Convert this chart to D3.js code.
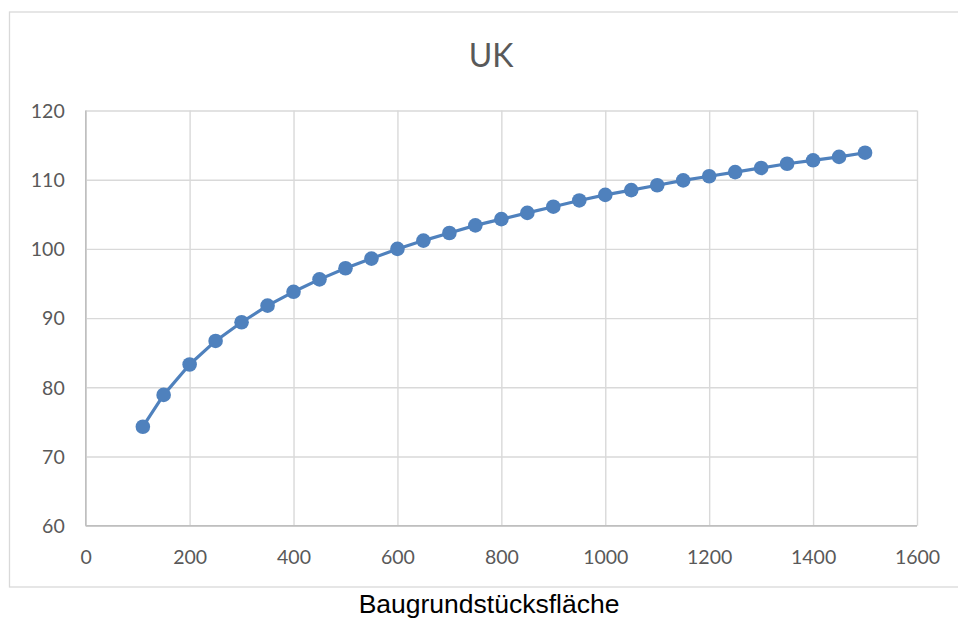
<!DOCTYPE html>
<html>
<head>
<meta charset="utf-8">
<script src="https://cdn.jsdelivr.net/npm/d3@7"></script>
<style>
  html, body { margin: 0; padding: 0; background: #fff; }
  svg { display: block; }
</style>
</head>
<body>
<svg id="chart" width="958" height="619"></svg>
<script>
const title = "UK";
const xLabel = "Baugrundstücksfläche";
const areas = [110, 150, 200, 250, 300, 350, 400, 450, 500, 550, 600, 650, 700, 750, 800,
               850, 900, 950, 1000, 1050, 1100, 1150, 1200, 1250, 1300, 1350, 1400, 1450, 1500];
const values = [74.3, 78.9, 83.3, 86.7, 89.4, 91.8, 93.8, 95.6, 97.2, 98.6, 100.0, 101.2, 102.3, 103.4, 104.3,
                105.2, 106.1, 107.0, 107.8, 108.5, 109.2, 109.9, 110.5, 111.1, 111.7, 112.3, 112.8, 113.3, 113.9];
const xTicks = [0, 200, 400, 600, 800, 1000, 1200, 1400, 1600];
const yTicks = [60, 70, 80, 90, 100, 110, 120];

const svg = d3.select("#chart");
const plot = { left: 85.7, right: 917, top: 110.5, bottom: 525.7 };

// chart border
svg.append("rect")
  .attr("x", 9.5).attr("y", 12).attr("width", 980).attr("height", 575)
  .attr("fill", "#fff").attr("stroke", "#d9d9d9").attr("stroke-width", 1.3);

const x = d3.scaleLinear().domain([0, 1600]).range([plot.left, plot.right]);
const y = d3.scaleLinear().domain([60, 120]).range([plot.bottom, plot.top]);

// gridlines
const gx = svg.append("g").attr("transform", `translate(0,${plot.bottom})`)
  .call(d3.axisBottom(x).tickValues(xTicks).tickSize(-(plot.bottom - plot.top)).tickFormat(""));
gx.select(".domain").remove();
gx.selectAll("line").attr("stroke", "#d9d9d9").attr("stroke-width", 1.4);

const gy = svg.append("g").attr("transform", `translate(${plot.left},0)`)
  .call(d3.axisLeft(y).tickValues(yTicks).tickSize(-(plot.right - plot.left)).tickFormat(""));
gy.select(".domain").remove();
gy.selectAll("line").attr("stroke", "#d9d9d9").attr("stroke-width", 1.4);

// axis lines
svg.append("line").attr("x1", plot.left).attr("x2", plot.right)
  .attr("y1", y(60)).attr("y2", y(60)).attr("stroke", "#bfbfbf").attr("stroke-width", 1.4);
svg.append("line").attr("x1", x(0)).attr("x2", x(0))
  .attr("y1", plot.top).attr("y2", plot.bottom).attr("stroke", "#bfbfbf").attr("stroke-width", 1.4);

// tick labels
const tickFont = "Lato, 'Open Sans', sans-serif";
const ax = svg.append("g").attr("transform", `translate(0,${plot.bottom})`)
  .call(d3.axisBottom(x).tickValues(xTicks).tickSize(0).tickPadding(0).tickFormat(d3.format("d")));
ax.select(".domain").remove();
ax.selectAll("text").attr("y", 38).attr("dy", 0)
  .attr("fill", "#595959").style("font-family", tickFont).style("font-size", "19.5px");

const ay = svg.append("g").attr("transform", `translate(${plot.left},0)`)
  .call(d3.axisLeft(y).tickValues(yTicks).tickSize(0).tickPadding(0).tickFormat(d3.format("d")));
ay.select(".domain").remove();
ay.selectAll("text").attr("x", -21).attr("dy", "0.35em")
  .attr("fill", "#595959").style("font-family", tickFont).style("font-size", "19.5px");

// title
svg.append("text").attr("x", 491).attr("y", 67).attr("text-anchor", "middle")
  .attr("fill", "#595959").style("font-family", tickFont).style("font-size", "32px")
  .text(title);

// x label
svg.append("text").attr("x", 489).attr("y", 613).attr("text-anchor", "middle")
  .attr("fill", "#000").style("font-family", "'Liberation Sans', Arial, sans-serif").style("font-size", "26.5px")
  .text(xLabel);

// series
const data = areas.map((a, i) => ({ a, v: values[i] }));
const line = d3.line().x(d => x(d.a)).y(d => y(d.v));
svg.append("path").datum(data).attr("d", line)
  .attr("fill", "none").attr("stroke", "#4f81bd").attr("stroke-width", 3.2)
  .attr("stroke-linejoin", "round");
svg.append("g").selectAll("circle").data(data).join("circle")
  .attr("cx", d => x(d.a)).attr("cy", d => y(d.v)).attr("r", 7.3)
  .attr("fill", "#4f81bd");
</script>
</body>
</html>
